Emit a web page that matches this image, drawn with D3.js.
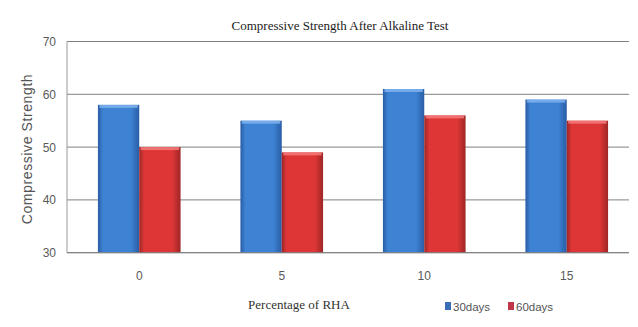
<!DOCTYPE html>
<html>
<head>
<meta charset="utf-8">
<script src="https://cdn.jsdelivr.net/npm/d3@7/dist/d3.min.js"></script>
<style>
  html, body { margin: 0; padding: 0; background: #fff; }
  svg { display: block; }
</style>
</head>
<body>
<svg id="chart" width="638" height="327"></svg>
<script>
// Compressive strength after alkaline test, by RHA percentage
const categories = ["0", "5", "10", "15"];
const seriesNames = ["30days", "60days"];
const days30 = [58, 55, 61, 59];
const days60 = [50, 49, 56, 55];
const yTicks = [30, 40, 50, 60, 70];

const svg = d3.select("#chart");
const plot = { left: 67, right: 629, top: 41.5, bottom: 252.7 };

const y = d3.scaleLinear().domain([30, 70]).range([plot.bottom, plot.top]);
const x0 = d3.scaleBand().domain(categories).range([68, 638])
  .paddingInner(0.42).paddingOuter(0.21);
const x1 = d3.scaleBand().domain(seriesNames).range([0, x0.bandwidth()]);

const values = { "30days": days30, "60days": days60 };
const palette = {
  "30days": { edge: "#2a5ca6", mid: "#3d82d3", cap: "#7fb3ee", legend: "#3a6fb8" },
  "60days": { edge: "#9e2626", mid: "#de3636", cap: "#f47a7a", legend: "#c0374a" }
};

// gradients for the shaded bars
const defs = svg.append("defs");
seriesNames.forEach((s, i) => {
  const g = defs.append("linearGradient").attr("id", "grad" + i)
    .attr("x1", "0").attr("x2", "1").attr("y1", "0").attr("y2", "0");
  g.append("stop").attr("offset", "0").attr("stop-color", palette[s].edge);
  g.append("stop").attr("offset", "0.12").attr("stop-color", palette[s].mid);
  g.append("stop").attr("offset", "0.8").attr("stop-color", palette[s].mid);
  g.append("stop").attr("offset", "1").attr("stop-color", palette[s].edge);
});

// title
svg.append("text")
  .attr("x", 340).attr("y", 30)
  .attr("text-anchor", "middle")
  .style("font-family", "'Liberation Serif', serif")
  .style("font-size", "13px")
  .style("fill", "#222")
  .text("Compressive Strength After Alkaline Test");

// gridlines
svg.append("g").selectAll("line").data(yTicks).join("line")
  .attr("x1", plot.left).attr("x2", plot.right)
  .attr("y1", d => y(d)).attr("y2", d => y(d))
  .attr("stroke", "#808080").attr("stroke-width", 1);

// left axis line
svg.append("line")
  .attr("x1", plot.left).attr("x2", plot.left)
  .attr("y1", plot.top).attr("y2", plot.bottom)
  .attr("stroke", "#9a9a9a").attr("stroke-width", 1);

// y tick labels
svg.append("g").selectAll("text").data(yTicks).join("text")
  .attr("x", 56).attr("y", d => y(d) + 4.5)
  .attr("text-anchor", "end")
  .style("font-family", "'Liberation Sans', sans-serif")
  .style("font-size", "12px")
  .style("fill", "#5a5a5a")
  .text(d => d);

// bars
const groups = svg.append("g").selectAll("g").data(categories).join("g")
  .attr("transform", d => `translate(${x0(d)},0)`);

seriesNames.forEach((s, i) => {
  const bw = x1.bandwidth();
  groups.append("rect")
    .attr("x", x1(s))
    .attr("y", (d, j) => y(values[s][j]))
    .attr("width", bw)
    .attr("height", (d, j) => plot.bottom - y(values[s][j]))
    .attr("fill", `url(#grad${i})`);
  // lighter cap along the top edge
  groups.append("rect")
    .attr("x", x1(s) + 1.5)
    .attr("y", (d, j) => y(values[s][j]))
    .attr("width", bw - 3)
    .attr("height", 3)
    .attr("fill", palette[s].cap)
    .attr("opacity", 0.85);
});

// bottom axis line over the bars
svg.append("line")
  .attr("x1", plot.left).attr("x2", plot.right)
  .attr("y1", plot.bottom).attr("y2", plot.bottom)
  .attr("stroke", "#808080").attr("stroke-width", 1);

// x tick labels
svg.append("g").selectAll("text").data(categories).join("text")
  .attr("x", d => x0(d) + x0.bandwidth() / 2)
  .attr("y", 280)
  .attr("text-anchor", "middle")
  .style("font-family", "'Liberation Sans', sans-serif")
  .style("font-size", "12px")
  .style("fill", "#5a5a5a")
  .text(d => d);

// axis titles
svg.append("text")
  .attr("x", 299).attr("y", 309)
  .attr("text-anchor", "middle")
  .style("font-family", "'Liberation Serif', serif")
  .style("font-size", "13px")
  .style("fill", "#333")
  .text("Percentage of RHA");

svg.append("text")
  .attr("transform", "translate(32,149) rotate(-90)")
  .attr("text-anchor", "middle")
  .style("font-family", "'Liberation Sans', sans-serif")
  .style("font-size", "14px")
  .style("letter-spacing", "0.6px")
  .style("fill", "#555")
  .text("Compressive Strength");

// legend
const legendX = [445, 508];
const legend = svg.append("g").selectAll("g").data(seriesNames).join("g")
  .attr("transform", (d, i) => `translate(${legendX[i]},302)`);
legend.append("rect")
  .attr("width", 6).attr("height", 8)
  .attr("fill", d => palette[d].legend);
legend.append("text")
  .attr("x", 8).attr("y", 8.5)
  .style("font-family", "'Liberation Sans', sans-serif")
  .style("font-size", "11.5px")
  .style("fill", "#555")
  .text(d => d);
</script>
</body>
</html>
